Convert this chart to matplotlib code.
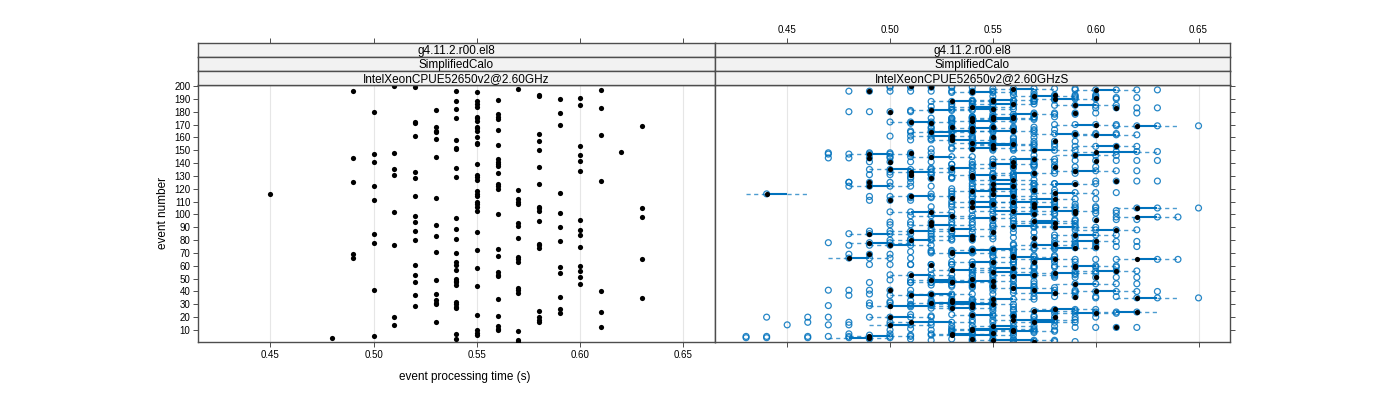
import matplotlib
matplotlib.use("Agg")
import matplotlib.pyplot as plt

plt.rcParams['font.family'] = ['Liberation Sans', 'DejaVu Sans']

# ---------------- data ----------------
strip_labels = ["g4.11.2.r00.el8", "SimplifiedCalo"]
panel_labels = ["IntelXeonCPUE52650v2@2.60GHz", "IntelXeonCPUE52650v2@2.60GHzS"]
x_ticks = [0.45, 0.50, 0.55, 0.60, 0.65]
y_ticks = list(range(10, 201, 10))

# left panel: event numbers observed at each (rounded) processing time
time_values = [0.45, 0.48, 0.49, 0.50, 0.51, 0.52, 0.53, 0.54, 0.55, 0.56,
               0.57, 0.58, 0.59, 0.60, 0.61, 0.62, 0.63]
events_by_time = [
    [116],
    [4],
    [196, 144, 125, 69, 66],
    [180, 147, 141, 122, 111, 85, 78, 41, 5],
    [200, 148, 135, 131, 102, 76, 20, 14],
    [199, 172, 171, 161, 133, 128, 114, 99, 94, 87, 80, 61, 53, 47, 37, 29],
    [181, 168, 165, 164, 159, 145, 113, 92, 83, 71, 49, 38, 33, 31, 30, 16],
    [196, 188, 182, 175, 158, 152, 151, 136, 129, 97, 89, 81, 70, 63, 61, 57,
     50, 48, 47, 45, 32, 30, 28, 27, 7, 3],
    [195, 188, 186, 184, 176, 175, 173, 168, 167, 165, 160, 156, 155, 139, 131,
     129, 127, 118, 116, 114, 110, 108, 106, 103, 86, 72, 58, 44, 22, 10, 8, 6],
    [189, 178, 176, 174, 166, 154, 143, 141, 139, 138, 132, 124, 122, 120, 100,
     73, 68, 55, 53, 52, 34, 21, 13, 11, 10],
    [198, 119, 112, 110, 108, 93, 91, 82, 67, 65, 63, 43, 41, 39, 9, 2, 1],
    [193, 192, 163, 157, 150, 137, 124, 106, 105, 103, 95, 77, 76, 74, 25, 20, 18, 16],
    [190, 179, 170, 117, 101, 90, 79, 59, 54, 36, 26, 23],
    [191, 185, 153, 146, 142, 134, 96, 88, 84, 75, 60, 56, 51, 46],
    [197, 183, 162, 126, 40, 24, 12],
    [149],
    [169, 105, 98, 65, 35],
]

# right panel: summary (black) time per event, as shift in hundredths from left value
black_shift_by_time = [
    [-1],
    [1],
    [0, 0, 0, 0, -1],
    [0, -1, 0, -1, 0, -1, -1, 0, -1],
    [0, 0, -1, 0, 1, -1, -1, -1],
    [0, -1, 0, 1, -1, 0, -1, 1, 0, -1, -1, 0, -1, 1, -1, -2],
    [-1, 0, 1, -1, 0, -1, 0, -1, 1, 0, -1, -1, 0, -1, 1, -2],
    [0, -1, 1, 0, -1, 1, 0, -1, 0, 1, -1, 0, -1, 1, 0, -1, 0, 1, -1, 0, -1, 1, 0, -1, -1, 0],
    [-1, 0, 1, -1, 0, 1, -1, 0, -1, 1, 0, -1, 1, 0, -1, 0, 1, -1, 0, 1, -1, 0, -1, 1, 0, -1,
     1, 0, -1, -1, 0, -2],
    [-1, 1, 0, -1, 0, -1, 1, 0, -1, 0, 1, -1, 0, -1, 1, -1, 0, -1, 1, 0, -1, 0, -1, -2, 0],
    [-1, 0, 1, -1, 0, 1, -1, 0, -1, 1, 0, -1, 0, 1, -1, -2, 0],
    [0, -1, 1, 0, -1, 0, 1, -1, 0, 1, -1, 0, -1, 1, -1, 0, -2, -1],
    [-1, 0, 1, -1, 0, -1, 1, 0, -1, 0, -1, 1],
    [0, -1, 1, -1, 0, -1, 0, 1, -1, 0, -1, 1, 0, -1],
    [-1, 0, -1, 0, -1, 1, 0],
    [-2],
    [-1, -1, -1, -1, -1],
]

# right panel: individual runs per event, shifts in hundredths from left value
run_shifts_by_time = [
    ["-1"],
    ["-5 -4 -2 0 1 2"],
    ["-1 0 1 2", "-2 -1 0 1", "-1 -1 0 1 2", "-1 0 1", "-1 0 1 2"],
    ["-2 -1 0 1", "-3 -2 -1 0 1", "-1 0 1 2", "-2 -1 0 1 2", "-1 0 1", "-2 -1 0 1 2",
     "-3 -1 0 1", "-3 -2 -1 0 1", "-7 -6 -4 -3 -2 0 1"],
    ["-1 0 1 2", "-4 -2 -1 0 1", "-2 -1 0 1 2", "-2 -1 0 1", "-1 0 1 2", "-3 -2 -1 0 1",
     "-7 -5 -4 -2 -1 0 1", "-6 -4 -3 -1 0 1"],
    ["-2 -1 0 1 2", "-2 -1 0 1", "-1 0 1 2", "-2 -1 0 1 2", "-2 -1 0 1 2", "-1 0 1 2 3",
     "-3 -2 -1 0 1", "-1 0 1 2", "-2 -1 0 1 2", "-3 -2 -1 0 1", "-2 -1 0 1 2",
     "-3 -2 -1 0 1", "-2 -1 0 1 2", "-3 -1 0 1 2", "-4 -2 -1 0 1", "-5 -3 -2 -1 0 1"],
    ["-2 -1 0 1 2", "-1 0 1 2", "-2 -1 0 1", "-2 -1 0 1 2", "-1 0 1 2 3", "-3 -2 -1 0 1",
     "-2 -1 0 1 2", "-3 -2 -1 0 1 2", "-1 0 1 2", "-2 -1 0 1 2", "-3 -2 -1 0 1",
     "-4 -2 -1 0 1 2", "-2 -1 0 1 2", "-4 -3 -1 0 1", "-2 -1 0 1 2", "-7 -5 -3 -1 0 1"],
    ["-2 -1 0 1 2", "-2 -1 0 1 3", "-1 0 1 2", "-2 -1 0 1", "-3 -2 -1 0 1", "-1 0 1 2 3",
     "-2 -1 0 1 2", "-2 -1 0 1 2", "-3 -1 0 1 2", "-1 0 1 2", "-2 -1 0 1 2",
     "-3 -2 -1 0 1", "-2 -1 0 1 2", "-1 0 1 2", "-3 -2 -1 0 1 2", "-2 -1 0 1",
     "-2 -1 0 1 2", "-1 0 1 2 3", "-3 -2 -1 0 1", "-2 -1 0 1 2", "-4 -2 -1 0 1",
     "-2 -1 0 1 2", "-3 -1 0 1 2", "-2 -1 0 1", "-6 -4 -2 -1 0 1", "-5 -3 -1 0 1 2"],
    ["-2 -1 0 1 2", "-1 0 1 2", "-2 -1 0 1 2", "-3 -2 -1 0 1", "-1 0 1 2 3",
     "-2 -1 0 1 2", "-2 -1 0 1", "-2 -1 0 1 2", "-3 -2 -1 0 1", "-1 0 1 2",
     "-2 -1 0 1 2", "-2 -1 0 1", "-1 0 1 2 3", "-2 -1 0 1 2", "-3 -1 0 1 2", "-2 -1 0 1",
     "-1 0 1 2", "-2 -1 0 1 2", "-3 -2 -1 0 1", "-1 0 1 2 3", "-2 -1 0 1 2",
     "-2 -1 0 1 2", "-3 -2 -1 0 1", "-1 0 1 2", "-2 -1 0 1 2", "-3 -2 -1 0 1",
     "-1 0 1 2", "-2 -1 0 1 2", "-4 -2 -1 0 1", "-5 -3 -2 -1 0 1", "-2 -1 0 1 2",
     "-6 -4 -3 -1 0 1"],
    ["-2 -1 0 1 2", "-1 0 1 2 3", "-2 -1 0 1", "-3 -2 -1 0 1", "-2 -1 0 1 2", "-2 -1 0 1",
     "-1 0 1 2", "-2 -1 0 1 2", "-3 -1 0 1", "-2 -1 0 1 2", "-1 0 1 2 3", "-2 -1 0 1 2",
     "-2 -1 0 1", "-3 -2 -1 0 1", "-1 0 1 2", "-2 -1 0 1 2", "-3 -1 0 1 2", "-2 -1 0 1",
     "-1 0 1 2 3", "-2 -1 0 1 2", "-3 -2 -1 0 1", "-4 -2 -1 0 1", "-3 -2 -1 0 1 2",
     "-5 -3 -1 0 1", "-2 -1 0 1 2"],
    ["-2 -1 0 1 2", "-2 -1 0 1", "-1 0 1 2 3", "-3 -2 -1 0 1", "-2 -1 0 1 2", "-1 0 1 2",
     "-2 -1 0 1 2", "-3 -1 0 1 2", "-2 -1 0 1", "-1 0 1 2 3", "-2 -1 0 1 2",
     "-3 -2 -1 0 1", "-2 -1 0 1 2", "-1 0 1 2", "-4 -2 -1 0 1", "-5 -3 -2 -1 0 1",
     "-3 -1 0 1 2"],
    ["-2 -1 0 1 2", "-3 -1 0 1 2", "-1 0 1 2 3", "-2 -1 0 1", "-3 -2 -1 0 1",
     "-2 -1 0 1 2", "-1 0 1 2", "-2 -1 0 1 2", "-2 -1 0 1 2", "-1 0 1 2 3",
     "-3 -2 -1 0 1", "-2 -1 0 1 2", "-2 -1 0 1", "-1 0 1 2", "-3 -2 -1 0 1",
     "-2 -1 0 1 2", "-4 -3 -1 0 1", "-3 -2 -1 0 1"],
    ["-2 -1 0 1 2", "-2 -1 0 1 3", "-1 0 1 2", "-3 -1 0 1 2", "-2 -1 0 1 2", "-2 -1 0 1",
     "-1 0 1 2 3", "-2 -1 0 1 2", "-3 -2 -1 0 1", "-2 -1 0 1 2", "-3 -1 0 1", "-1 0 1 2"],
    ["-1 0 1 2", "-2 -1 0 1", "-2 -1 0 1 2", "-3 -1 0 1", "-1 0 1 2 3", "-2 -1 0 1 2",
     "-2 -1 0 1 2", "-1 0 1 2", "-2 -1 0 1", "-2 -1 0 1 2", "-3 -2 -1 0 1", "-1 0 1 2",
     "-2 -1 0 1 2", "-3 -1 0 1 2"],
    ["-2 -1 0 1 2", "-1 0 1 2", "-2 -1 0 1", "-1 0 1 2", "-2 -1 0 1 2", "-1 0 1",
     "-2 -1 0 1"],
    ["-1 0 1"],
    ["-2 -1 0 2", "-1 0 2", "-2 0 1", "-2 0 1", "-3 -1 0 2"],
]

# ---------------- layout ----------------
W, H = 1400, 400
fig = plt.figure(figsize=(W / 100, H / 100), dpi=100)
BLUE = "#0072bd"
FRAME = "#4d4d4d"
XLIM = (0.4149, 0.6653)
YLIM = (0.65, 200.8)


def rect(x0, y0, x1, y1):
    return [x0 / W, 1 - y1 / H, (x1 - x0) / W, (y1 - y0) / H]


cols = [(198, 715), (715, 1230)]
panel_top, panel_bot = 85, 342
strip_rows = [(43, 57), (57, 71), (71, 85)]

axes = []
for ci, (x0, x1) in enumerate(cols):
    ax = fig.add_axes(rect(x0, panel_top, x1, panel_bot))
    ax.set_xlim(*XLIM)
    ax.set_ylim(*YLIM)
    for v in x_ticks:
        ax.axvline(v, color="#e6e6e6", lw=0.8, zorder=0)
    for s in ax.spines.values():
        s.set_color(FRAME)
        s.set_linewidth(1.0)
    ax.set_xticks(x_ticks)
    ax.set_yticks(y_ticks)
    ax.tick_params(axis="both", direction="out", length=3.5, width=0.7,
                   color=FRAME, labelsize=7, pad=2)
    if ci == 0:
        ax.set_xticklabels([f"{v:.2f}" for v in x_ticks])
        ax.tick_params(axis="y", left=True, right=False, labelleft=True)
        ax.set_yticklabels([str(v) for v in y_ticks])
    else:
        ax.tick_params(axis="x", labelbottom=False)
        ax.tick_params(axis="y", left=False, right=True, labelleft=False, labelright=False)
    axes.append(ax)

    # strips
    texts = strip_labels + [panel_labels[ci]]
    for ri, (sy0, sy1) in enumerate(strip_rows):
        sax = fig.add_axes(rect(x0, sy0, x1, sy1))
        sax.set_xlim(*XLIM)
        sax.set_ylim(0, 1)
        sax.set_facecolor("#f2f2f2")
        for s in sax.spines.values():
            s.set_color(FRAME)
            s.set_linewidth(1.0)
        sax.set_yticks([])
        sax.text(0.5, 0.45, texts[ri], transform=sax.transAxes, ha="center",
                 va="center", fontsize=8.5, color="black")
        if ri == 0:
            sax.set_xticks(x_ticks)
            sax.tick_params(axis="x", bottom=False, labelbottom=False, top=True,
                            labeltop=(ci == 1), direction="out", length=3.5,
                            width=0.7, color=FRAME, labelsize=7, pad=2)
            if ci == 1:
                sax.set_xticklabels([f"{v:.2f}" for v in x_ticks])
        else:
            sax.set_xticks([])

ax_l, ax_r = axes

# left panel points
lx, ly = [], []
for t, evs in zip(time_values, events_by_time):
    for e in evs:
        lx.append(t)
        ly.append(e)
ax_l.scatter(lx, ly, s=14, color="black", linewidths=0, zorder=3)

# right panel
bx, by, cx, cy = [], [], [], []
for t, evs, bshift, rshift in zip(time_values, events_by_time,
                                  black_shift_by_time, run_shifts_by_time):
    for e, b, rs in zip(evs, bshift, rshift):
        tb = round(t + b / 100, 2)
        bx.append(tb)
        by.append(e)
        for r in rs.split():
            cx.append(round(t + int(r) / 100, 2))
            cy.append(e)
        if tb != t:
            lo, hi = min(tb, t), max(tb, t)
            ax_r.plot([lo - 0.01, lo], [e, e], color=BLUE, lw=1.0, alpha=0.7,
                      dashes=(3, 2.5), zorder=1)
            ax_r.plot([hi, hi + 0.01], [e, e], color=BLUE, lw=1.0, alpha=0.7,
                      dashes=(3, 2.5), zorder=1)
            ax_r.plot([tb, t], [e, e], color=BLUE, lw=1.5, zorder=2,
                      solid_capstyle="butt")
ax_r.scatter(cx, cy, s=18, facecolors="none", edgecolors=BLUE, linewidths=0.9,
             alpha=0.85, zorder=2)
ax_r.scatter(bx, by, s=14, color="black", linewidths=0, zorder=4)

fig.text(465 / W, 1 - 377 / H, "event processing time (s)", ha="center",
         va="center", fontsize=8.5)
fig.text(163 / W, 1 - 213 / H, "event number", ha="center", va="center",
         rotation=90, fontsize=8.5)

fig.savefig("out.png", dpi=100)
